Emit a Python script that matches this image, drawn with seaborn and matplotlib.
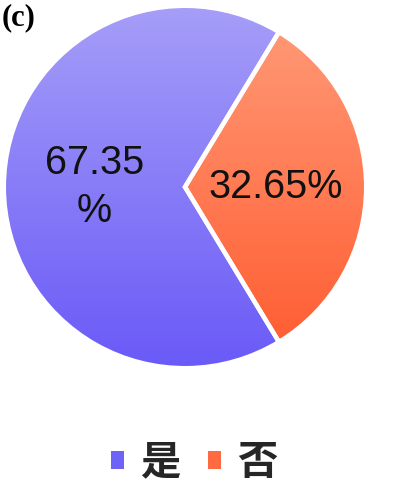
import matplotlib
matplotlib.use("Agg")
import matplotlib.pyplot as plt
import seaborn as sns
import numpy as np
from matplotlib.colors import LinearSegmentedColormap
from matplotlib.patches import Rectangle

# ---- data ----
categories = ["是", "否"]
values = [67.35, 32.65]
pct_labels = ["67.35\n%", "32.65%"]
top_colors = ["#a69ef8", "#ff9c7a"]
bottom_colors = ["#6a5af7", "#ff5a2e"]
legend_colors = ["#6f62f6", "#ff6a40"]

sns.set_theme(style="white")
plt.rcParams["font.family"] = ["Liberation Sans", "DejaVu Sans"]

fig = plt.figure(figsize=(3.93, 4.82), dpi=100)
ax = fig.add_axes([2 / 393, 112 / 482, 366 / 393, 366 / 482])

total = sum(values)
start = values[1] / total * 180.0

wedges, texts = ax.pie(
    values,
    labels=pct_labels,
    labeldistance=0.5,
    startangle=start,
    colors=bottom_colors,
    wedgeprops=dict(edgecolor="white", linewidth=3.2),
    textprops=dict(fontsize=28.5, color="#111111"),
)

grad = np.linspace(0, 1, 256).reshape(-1, 1)
for w, c_top, c_bot in zip(wedges, top_colors, bottom_colors):
    cmap = LinearSegmentedColormap.from_list("g", [c_top, c_bot])
    im = ax.imshow(grad, extent=(-1, 1, -1, 1), cmap=cmap, aspect="auto",
                   origin="upper", zorder=0.5, interpolation="bilinear")
    im.set_clip_path(w)
    w.set_facecolor("none")

for t in texts:
    t.set_ha("center")
    t.set_va("center")
    t.set_multialignment("center")
    t.set_linespacing(1.35)

ax.set_xlim(-1.01, 1.01)
ax.set_ylim(-1.01, 1.01)
ax.set_aspect("equal")
ax.axis("off")

fig.text(0.004, 0.993, "(c)", family=["Liberation Serif"], fontweight="bold",
         fontsize=22, va="top", ha="left", color="black")

handles = [Rectangle((0, 0), 1, 1, facecolor=c, edgecolor="none") for c in legend_colors]
leg = fig.legend(handles, categories, loc="center", bbox_to_anchor=(0.494, 0.040),
                 ncol=2, frameon=False, handlelength=0.32, handleheight=0.32,
                 handletextpad=0.4, columnspacing=0.7,
                 prop=dict(family=["Noto Sans CJK SC", "DejaVu Sans"], size=29,
                           weight="bold"))

fig.savefig("out.png", dpi=100, facecolor="white")
